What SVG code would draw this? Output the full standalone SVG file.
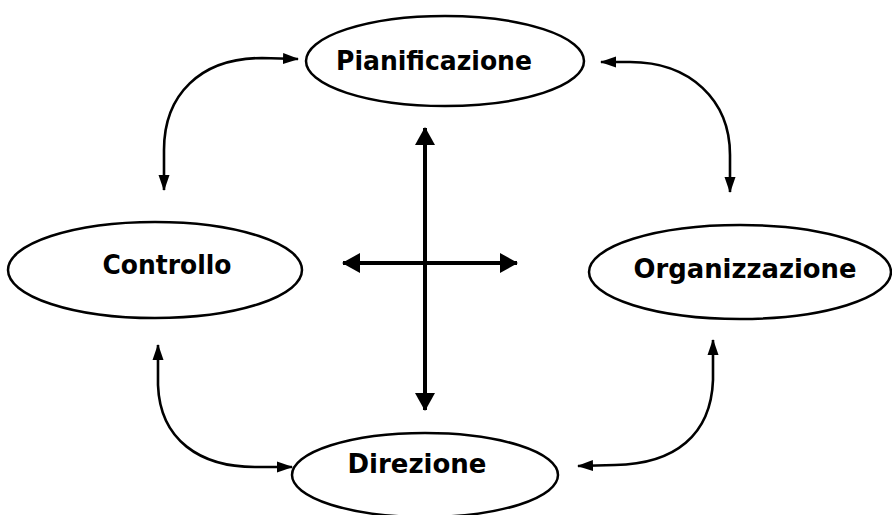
<svg xmlns="http://www.w3.org/2000/svg" width="892" height="515" viewBox="0 0 892 515">
  <style>
    .node ellipse { fill: #ffffff; stroke: #000000; stroke-width: 2.5; }
    .node text { font-family: "DejaVu Sans Condensed", "DejaVu Sans", "Liberation Sans", sans-serif; font-weight: bold; font-size: 26px; fill: #000000; text-anchor: middle; dominant-baseline: central; }
    .conn path { fill: none; stroke: #000000; }
    .conn .curve { stroke-width: 2.6; }
    .conn .thick { stroke-width: 4; }
  </style>
  <defs>
    <marker id="ah" viewBox="0 0 16 12" refX="15" refY="6" markerWidth="16" markerHeight="12" orient="auto-start-reverse" markerUnits="userSpaceOnUse">
      <path d="M0,0.5 L16,6 L0,11.5 z" fill="#000000"/>
    </marker>
    <marker id="ahb" viewBox="0 0 18 20" refX="17" refY="10" markerWidth="18" markerHeight="20" orient="auto-start-reverse" markerUnits="userSpaceOnUse">
      <path d="M0,0 L18,10 L0,20 z" fill="#000000"/>
    </marker>
  </defs>
  <rect width="892" height="515" fill="#ffffff"/>
  <g id="connectors" class="conn">
    <path class="curve" d="M164 190 L164 150 C164 95 200 58 262 58 L298 59" marker-start="url(#ah)" marker-end="url(#ah)"/>
    <path class="curve" d="M601 62 L630 62 C690 62 730 100 730 155 L730 192" marker-start="url(#ah)" marker-end="url(#ah)"/>
    <path class="curve" d="M158 345 L158 385 C160 440 200 467 255 467 L292 467" marker-start="url(#ah)" marker-end="url(#ah)"/>
    <path class="curve" d="M713 340 L713 380 C711 435 675 464 615 465 L578 466" marker-start="url(#ah)" marker-end="url(#ah)"/>
    <path class="thick" d="M425 128 L425 410" marker-start="url(#ahb)" marker-end="url(#ahb)"/>
    <path class="thick" d="M343 263 L517 263" marker-start="url(#ahb)" marker-end="url(#ahb)"/>
  </g>
  <g id="pianificazione" class="node">
    <ellipse cx="445" cy="61" rx="139" ry="45"/>
    <text x="434" y="61" textLength="196" lengthAdjust="spacingAndGlyphs">Pianificazione</text>
  </g>
  <g id="controllo" class="node">
    <ellipse cx="155" cy="270" rx="147" ry="48"/>
    <text x="167" y="265" textLength="129" lengthAdjust="spacingAndGlyphs">Controllo</text>
  </g>
  <g id="organizzazione" class="node">
    <ellipse cx="740" cy="272" rx="151" ry="47"/>
    <text x="745" y="269" textLength="223" lengthAdjust="spacingAndGlyphs">Organizzazione</text>
  </g>
  <g id="direzione" class="node">
    <ellipse cx="425" cy="475" rx="133" ry="42"/>
    <text x="417" y="464" textLength="139" lengthAdjust="spacingAndGlyphs">Direzione</text>
  </g>
</svg>
